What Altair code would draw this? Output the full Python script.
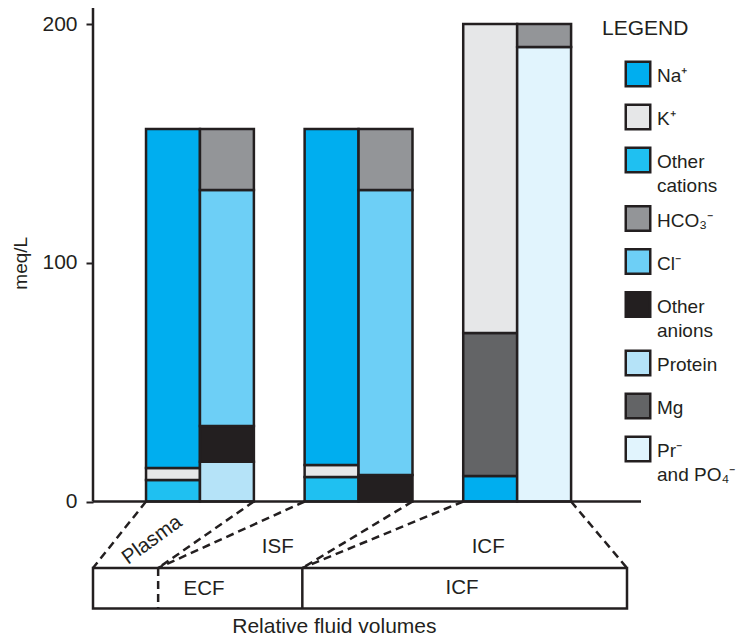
import altair as alt
import pandas as pd

INK = "#231f20"
FONT = "Liberation Sans"

# ---------------- data (meq/L), stacks listed bottom -> top ----------------
COMPARTMENTS = ["Plasma", "ISF", "ICF"]

PLASMA_CATION_IONS = ["Other cations", "K+", "Na+"]
PLASMA_CATION_VALUES = [9.0, 5.0, 142.0]
PLASMA_ANION_IONS = ["Protein", "Other anions", "Cl-", "HCO3-"]
PLASMA_ANION_VALUES = [16.7, 14.9, 98.9, 25.5]

ISF_CATION_IONS = ["Other cations", "K+", "Na+"]
ISF_CATION_VALUES = [10.3, 5.0, 140.7]
ISF_ANION_IONS = ["Other anions", "Cl-", "HCO3-"]
ISF_ANION_VALUES = [11.1, 119.4, 25.5]

ICF_CATION_IONS = ["Na+", "Mg", "K+"]
ICF_CATION_VALUES = [10.7, 59.9, 129.4]
ICF_ANION_IONS = ["Pr- and PO4-", "HCO3-"]
ICF_ANION_VALUES = [190.4, 9.6]

# relative fluid volumes (percent of total body water)
VOLUMES = [12.2, 27.0, 60.8]

IONS = ["Na+", "K+", "Other cations", "HCO3-", "Cl-", "Other anions",
        "Protein", "Mg", "Pr- and PO4-"]
LEGEND_LABELS = ["Na⁺", "K⁺", "Other\ncations", "HCO₃⁻", "Cl⁻", "Other\nanions",
                 "Protein", "Mg", "Pr⁻\nand PO₄⁻"]
COLORS = ["#00aeef", "#e6e7e8", "#1fc0f1", "#939598", "#6dcff6", "#231f20",
          "#b5e3f8", "#636466", "#e1f4fd"]

Y_TICKS = [0, 100, 200]

# ---------------- layout ----------------
PLOT_W, PLOT_H = 548, 628
PX_PER_Y = 2.3875
Y_HI = 493.5 / PX_PER_Y
Y_LO = Y_HI - PLOT_H / PX_PER_Y
X_MAX = PLOT_W / 5.34
GROUP_START, GROUP_STEP, BAR_W = 9.93, 29.7, 10.1
BOX_TOP, BOX_BOT = -27.85, -44.8

yscale = alt.Scale(domain=[Y_LO, Y_HI], nice=False, zero=False)
xscale = alt.Scale(domain=[0, X_MAX], nice=False, zero=False)

# ---------------- bar table ----------------
stacks = [
    (0, 0, PLASMA_CATION_IONS, PLASMA_CATION_VALUES),
    (0, 1, PLASMA_ANION_IONS, PLASMA_ANION_VALUES),
    (1, 0, ISF_CATION_IONS, ISF_CATION_VALUES),
    (1, 1, ISF_ANION_IONS, ISF_ANION_VALUES),
    (2, 0, ICF_CATION_IONS, ICF_CATION_VALUES),
    (2, 1, ICF_ANION_IONS, ICF_ANION_VALUES),
]
rows = []
for gi, side, ions, vals in stacks:
    base = 0.0
    xs = GROUP_START + gi * GROUP_STEP + side * BAR_W
    for ion, v in zip(ions, vals):
        rows.append({"compartment": COMPARTMENTS[gi], "ion": ion,
                     "x0": xs, "x1": xs + BAR_W, "y0": base, "y1": base + v})
        base += v
bars_df = pd.DataFrame(rows)

# connectors from bar groups to the volume box
conn = []
cum = 0.0
for gi, vol in enumerate(VOLUMES):
    left = GROUP_START + gi * GROUP_STEP
    right = left + 2 * BAR_W
    conn.append({"xa": left, "ya": 0.0, "xb": cum, "yb": BOX_TOP})
    conn.append({"xa": right, "ya": 0.0, "xb": cum + vol, "yb": BOX_TOP})
    cum += vol
conn_df = pd.DataFrame(conn)

box_df = pd.DataFrame([{"x0": 0.0, "x1": sum(VOLUMES), "y0": BOX_TOP, "y1": BOX_BOT}])
div_dashed = pd.DataFrame([{"x": VOLUMES[0], "y0": BOX_TOP, "y1": BOX_BOT}])
div_solid = pd.DataFrame([{"x": VOLUMES[0] + VOLUMES[1], "y0": BOX_TOP, "y1": BOX_BOT}])

# ---------------- layers ----------------
connectors = alt.Chart(conn_df).mark_rule(
    strokeDash=[8, 5], strokeWidth=2.5, color=INK
).encode(
    x=alt.X("xa:Q", scale=xscale, axis=None),
    x2="xb:Q",
    y=alt.Y("ya:Q", scale=yscale, axis=None),
    y2="yb:Q",
)

box = alt.Chart(box_df).mark_rect(fill="white", stroke=INK, strokeWidth=2.5).encode(
    x=alt.X("x0:Q", scale=xscale, axis=None), x2="x1:Q",
    y=alt.Y("y0:Q", scale=yscale, axis=None), y2="y1:Q",
)
dashed_div = alt.Chart(div_dashed).mark_rule(
    strokeDash=[8, 5], strokeWidth=2.5, color=INK
).encode(
    x=alt.X("x:Q", scale=xscale, axis=None),
    y=alt.Y("y0:Q", scale=yscale, axis=None), y2="y1:Q",
)
solid_div = alt.Chart(div_solid).mark_rule(strokeWidth=2.5, color=INK).encode(
    x=alt.X("x:Q", scale=xscale, axis=None),
    y=alt.Y("y0:Q", scale=yscale, axis=None), y2="y1:Q",
)

bars = alt.Chart(bars_df).mark_bar(stroke=INK, strokeWidth=2.5).encode(
    x=alt.X("x0:Q", scale=xscale, axis=None),
    x2="x1:Q",
    y=alt.Y("y0:Q", scale=yscale,
            axis=alt.Axis(values=Y_TICKS, grid=False, domain=False, tickSize=7,
                          tickWidth=2, tickColor=INK, labelFontSize=21,
                          labelColor=INK, labelFont=FONT, labelPadding=9,
                          title="meq/L", titleFont=FONT, titleFontSize=19,
                          titleFontWeight="normal", titleColor=INK,
                          titleX=-73, titleY=(Y_HI - 100) * PX_PER_Y,
                          titleAngle=270, titleAlign="center",
                          titleBaseline="middle")),
    y2="y1:Q",
    color=alt.Color("ion:N", scale=alt.Scale(domain=IONS, range=COLORS), legend=None),
)

baseline = alt.Chart(pd.DataFrame({"y": [0]})).mark_rule(strokeWidth=2.5, color=INK).encode(
    y=alt.Y("y:Q", scale=yscale, axis=None),
    x=alt.value(0), x2=alt.value(PLOT_W),
)
yline = alt.Chart(pd.DataFrame({"y": [0]})).mark_rule(strokeWidth=2.5, color=INK).encode(
    y=alt.Y("y:Q", scale=yscale, axis=None),
    y2=alt.value(0),
    x=alt.value(0),
)

labels_df = pd.DataFrame([
    {"t": "ISF", "x": 34.6, "y": -19.1},
    {"t": "ICF", "x": 74.0, "y": -19.1},
    {"t": "ECF", "x": 20.8, "y": -36.6},
    {"t": "ICF", "x": 69.1, "y": -36.4},
])
labels = alt.Chart(labels_df).mark_text(
    font=FONT, fontSize=20.5, color=INK, baseline="middle", align="center"
).encode(
    x=alt.X("x:Q", scale=xscale, axis=None),
    y=alt.Y("y:Q", scale=yscale, axis=None),
    text="t:N",
)
xtitle = alt.Chart(pd.DataFrame([{"t": "Relative fluid volumes", "x": 45.2, "y": -55.0}])).mark_text(
    font=FONT, fontSize=21, color=INK, baseline="alphabetic", align="center"
).encode(
    x=alt.X("x:Q", scale=xscale, axis=None),
    y=alt.Y("y:Q", scale=yscale, axis=None),
    text="t:N",
)
plasma_label = alt.Chart(pd.DataFrame([{"t": "Plasma", "x": 11.05, "y": -16.1}])).mark_text(
    font=FONT, fontSize=20.5, color=INK, baseline="middle", align="center", angle=324
).encode(
    x=alt.X("x:Q", scale=xscale, axis=None),
    y=alt.Y("y:Q", scale=yscale, axis=None),
    text="t:N",
)

# legend (pixel rows computed from line counts)
leg_rows = []
ypos = 66.0
for ion, lab in zip(IONS, LEGEND_LABELS):
    leg_rows.append({"ion": ion, "label": lab, "ly": ypos})
    ypos += 43 + 15.5 * lab.count("\n")
leg_df = pd.DataFrame(leg_rows)
ly_scale = alt.Scale(domain=[0, PLOT_H], range=[0, PLOT_H], nice=False, zero=False)

leg_sq = alt.Chart(leg_df).mark_square(
    size=600, opacity=1, filled=True, stroke=INK, strokeWidth=2.5
).encode(
    x=alt.value(545),
    y=alt.Y("ly:Q", scale=ly_scale, axis=None),
    color=alt.Color("ion:N", scale=alt.Scale(domain=IONS, range=COLORS), legend=None),
)
leg_txt = alt.Chart(leg_df).mark_text(
    font=FONT, fontSize=19, color=INK, align="left", baseline="middle",
    lineBreak="\n", lineHeight=24, dy=2
).encode(
    x=alt.value(564),
    y=alt.Y("ly:Q", scale=ly_scale, axis=None),
    text="label:N",
)
leg_title = alt.Chart(pd.DataFrame({"t": ["LEGEND"], "ly": [21]})).mark_text(
    font=FONT, fontSize=21, color=INK, align="left", baseline="middle"
).encode(
    x=alt.value(509),
    y=alt.Y("ly:Q", scale=ly_scale, axis=None),
    text="t:N",
)

chart = alt.layer(
    connectors, box, dashed_div, solid_div, bars, baseline, yline,
    labels, xtitle, plasma_label, leg_sq, leg_txt, leg_title,
).resolve_scale(
    y="independent"
).properties(
    width=PLOT_W, height=PLOT_H,
    autosize=alt.AutoSizeParams(type="none"),
    padding={"left": 85, "top": 0, "right": 96, "bottom": 0},
    background="white",
).configure_view(stroke=None)

chart.save("out.html", embed_options={"renderer": "svg", "actions": False})
